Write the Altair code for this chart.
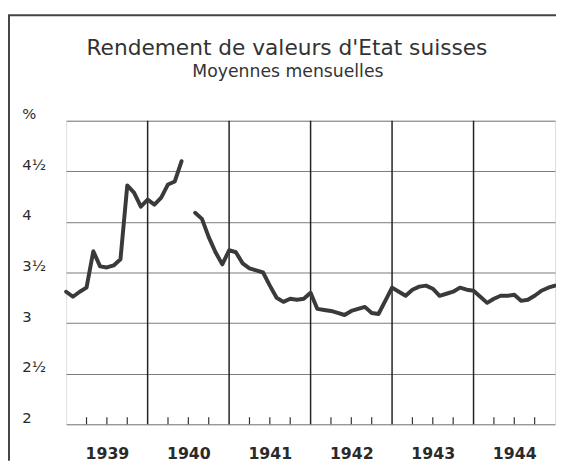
import altair as alt
import pandas as pd

# ---- data (monthly averages, %) ----
years = [1939, 1940, 1941, 1942, 1943, 1944]
y1939 = [3.31, 3.26, 3.31, 3.35, 3.71, 3.56, 3.55, 3.57, 3.63, 4.36, 4.29, 4.15]
y1940 = [4.22, 4.17, 4.24, 4.37, 4.40, 4.60, None, 4.09, 4.03, 3.85, 3.70, 3.58]
y1941 = [3.72, 3.70, 3.59, 3.54, 3.52, 3.50, 3.37, 3.25, 3.21, 3.24, 3.23, 3.24]
y1942 = [3.30, 3.14, 3.13, 3.12, 3.10, 3.08, 3.12, 3.14, 3.16, 3.10, 3.09, 3.22]
y1943 = [3.35, 3.31, 3.27, 3.33, 3.36, 3.37, 3.34, 3.27, 3.29, 3.31, 3.35, 3.33]
y1944 = [3.32, 3.26, 3.20, 3.24, 3.27, 3.27, 3.28, 3.22, 3.23, 3.27, 3.32, 3.35]
y1945 = [3.37]

y_ticks = [2, 2.5, 3, 3.5, 4, 4.5, 5]
y_labels = ["2", "2½", "3", "3½", "4", "4½", "%"]
quarter_months = [3, 6, 9]

title_text = "Rendement de valeurs d'Etat suisses"
subtitle_text = "Moyennes mensuelles"

# ---- build tables ----
rows = []
seg = 0
series = [y1939, y1940, y1941, y1942, y1943, y1944, y1945]
for yi, vals in enumerate(series):
    for m, v in enumerate(vals):
        if v is None:
            seg += 1
            continue
        rows.append({"t": yi * 12 + m, "v": v, "seg": seg})
df = pd.DataFrame(rows)

n_months = len(years) * 12
bounds_df = pd.DataFrame({"t": [i * 12 for i in range(1, len(years))]})
qt_df = pd.DataFrame({"t": [i * 12 + q for i in range(len(years)) for q in quarter_months]})
one = pd.DataFrame({"k": [0]})

label_expr_y = " : ".join(
    f"datum.value == {v} ? '{l}'" for v, l in zip(y_ticks, y_labels)
) + " : ''"
year_centers = [i * 12 + 6 for i in range(len(years))]
label_expr_x = " : ".join(
    f"datum.value == {c} ? '{y}'" for c, y in zip(year_centers, years)
) + " : ''"

xscale = alt.Scale(domain=[0, n_months], nice=False, zero=False)
yscale = alt.Scale(domain=[2, 5], nice=False, zero=False)

line = alt.Chart(df).mark_line(
    color="#3a3a3a", strokeWidth=4, strokeCap="round", strokeJoin="round"
).encode(
    x=alt.X("t:Q", scale=xscale, title=None,
            axis=alt.Axis(values=year_centers, labelExpr=label_expr_x, grid=False,
                          ticks=False, domain=False, labelFont="DejaVu Sans",
                          labelFontWeight="bold", labelFontSize=16, labelColor="#2a2a2a",
                          labelPadding=22, labelBaseline="top")),
    y=alt.Y("v:Q", scale=yscale, title=None,
            axis=alt.Axis(values=y_ticks, labelExpr=label_expr_y, grid=True,
                          gridColor="#7a7a7a", gridWidth=1, ticks=False, domain=False,
                          labelAlign="left", labelPadding=45, labelOffset=-7,
                          labelFont="DejaVu Sans", labelFontSize=15, labelColor="#2a2a2a")),
    detail="seg:N",
)

year_lines = alt.Chart(bounds_df).mark_rule(color="#222222", strokeWidth=1.5).encode(
    x=alt.X("t:Q", scale=xscale, title=None)
)

qticks = alt.Chart(qt_df).mark_rule(color="#333333", strokeWidth=1.2).encode(
    x=alt.X("t:Q", scale=xscale, title=None),
    y=alt.datum(2, scale=yscale),
    y2=alt.datum(2.07),
)

frame_left = alt.Chart(one).mark_rule(color="#444444", strokeWidth=2).encode(
    x=alt.value(-58), y=alt.value(-107), y2=alt.value(345)
)
frame_top = alt.Chart(one).mark_rule(color="#444444", strokeWidth=2).encode(
    x=alt.value(-59), x2=alt.value(500), y=alt.value(-107)
)

title_mark = alt.Chart(one).mark_text(
    text=title_text, font="DejaVu Sans", fontSize=22, color="#333333",
    align="center", baseline="alphabetic"
).encode(x=alt.value(224), y=alt.value(-67))

subtitle_mark = alt.Chart(one).mark_text(
    text=subtitle_text, font="DejaVu Sans", fontSize=17.5, color="#333333",
    align="center", baseline="alphabetic"
).encode(x=alt.value(225), y=alt.value(-44))

chart = alt.layer(
    year_lines, qticks, line, frame_left, frame_top, title_mark, subtitle_mark
).properties(
    width=496,
    height=308,
    autosize=alt.AutoSizeParams(type="none"),
    padding={"left": 59, "top": 111, "right": 1, "bottom": 41},
).configure_view(stroke="#111111", strokeWidth=2).configure(background="white")

chart.save("out.html", embed_options={"renderer": "svg", "actions": False})
